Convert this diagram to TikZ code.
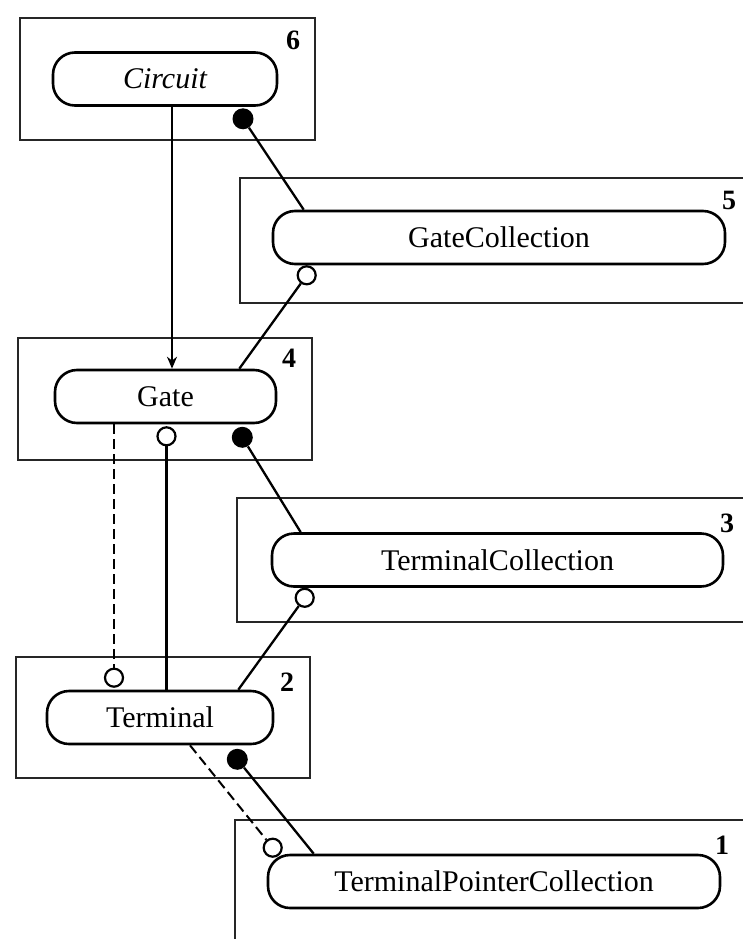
\documentclass[tikz,border=0pt]{standalone}
\usepackage{fontspec}
\setmainfont{Liberation Serif}
\usetikzlibrary{arrows.meta}
\tikzset{
  % rounded box for a class
  classbox/.style={
    draw=black,line width=2.6pt,rounded corners=22pt,
    minimum height=53pt,inner sep=0pt,
    font=\fontsize{30}{34}\selectfont
  },
  % frame round each group of classes
  cluster/.style={draw=black!85,line width=1.4pt},
  % group number in the frame corner
  grpnum/.style={font=\fontsize{28}{32}\selectfont\bfseries,inner sep=0pt},
  % filled dot and open circle at the ends of an association
  fdot/.style={circle,fill=black,inner sep=0pt,minimum size=21pt},
  ocirc/.style={circle,draw=black,line width=2.2pt,fill=white,inner sep=0pt,minimum size=18pt},
  link/.style={draw=black,line width=2.3pt},
  dlink/.style={link,line width=2pt,dash pattern=on 10pt off 5pt},
}

\begin{document}
\begin{tikzpicture}[x=1pt,y=-1pt]
\useasboundingbox (0,0) rectangle (743,939);

% group frames
\draw[cluster] (20,18) rectangle (315,140);
\draw[cluster] (743,178) -- (240,178) -- (240,303) -- (743,303);
\draw[cluster] (18,338) rectangle (312,460);
\draw[cluster] (743,498) -- (237,498) -- (237,622) -- (743,622);
\draw[cluster] (16,657) rectangle (310,778);
\draw[cluster] (743,820) -- (235,820) -- (235,939);

\node[grpnum] (n6) at (293,40) {6};
\node[grpnum] (n5) at (729,200) {5};
\node[grpnum] (n4) at (289,358) {4};
\node[grpnum] (n3) at (727,523) {3};
\node[grpnum] (n2) at (287,682) {2};
\node[grpnum] (n1) at (722,845) {1};

% classes
\node[classbox,minimum width=224pt] (circuit) at (165,79) {\itshape Circuit};
\node[classbox,minimum width=452pt] (gatecoll) at (499,237.5) {GateCollection};
\node[classbox,minimum width=221pt] (gate) at (165.5,396.5) {Gate};
\node[classbox,minimum width=451pt] (termcoll) at (497.5,560) {TerminalCollection};
\node[classbox,minimum width=226pt] (terminal) at (160,717.5) {Terminal};
\node[classbox,minimum width=452pt] (tpc) at (494,881.5) {TerminalPointerCollection};

% association ends
\node[fdot] (circuitdot) at ([xshift=78pt,yshift=-12pt]circuit.south) {};
\node[ocirc] (gcoll) at ([xshift=35pt,yshift=-10pt]gatecoll.south west) {};
\node[fdot] (gatedot) at ([xshift=-35pt,yshift=-13pt]gate.south east) {};
\node[ocirc] (gatecirc) at ([xshift=1pt,yshift=-12pt]gate.south) {};
\node[ocirc] (tcoll) at ([xshift=34pt,yshift=-10pt]termcoll.south west) {};
\node[ocirc] (termcirc) at ([xshift=-46pt,yshift=12pt]terminal.north) {};
\node[fdot] (termdot) at ([xshift=-37pt,yshift=-14pt]terminal.south east) {};
\node[ocirc] (tpccirc) at ([xshift=6pt,yshift=6pt]tpc.north west) {};

% connectors
\draw[link,-{Stealth[length=12pt,width=10pt]}] ([xshift=7pt]circuit.south) -- ([xshift=7pt]circuit.south |- gate.north);
\draw[link] (circuitdot) -- ([xshift=32pt]gatecoll.north west);
\draw[link] (gcoll) -- ([xshift=-38pt]gate.north east);
\draw[link] (gatedot) -- ([xshift=30pt]termcoll.north west);
\draw[link] (tcoll) -- ([xshift=-36pt]terminal.north east);
\draw[link] (gatecirc) -- (gatecirc |- terminal.north);
\draw[dlink] (termcirc |- gate.south) -- (termcirc);
\draw[link] (termdot) -- ([xshift=47pt]tpc.north west);
\draw[dlink] ([xshift=30pt]terminal.south) -- (tpccirc);
\end{tikzpicture}
\end{document}
